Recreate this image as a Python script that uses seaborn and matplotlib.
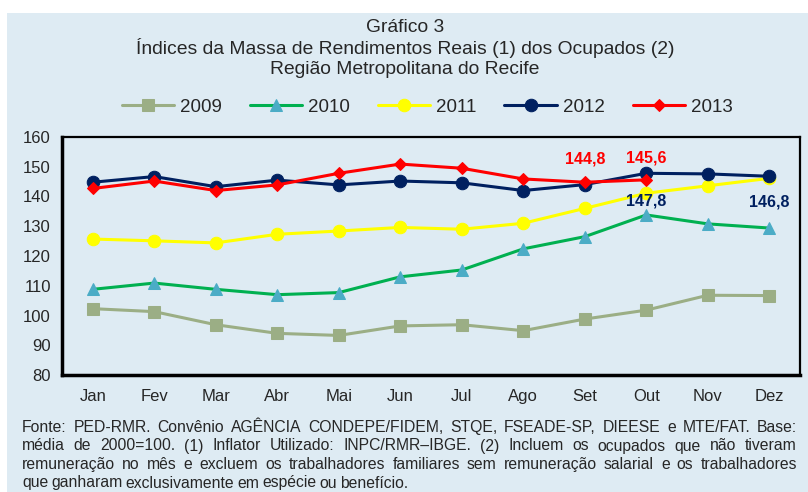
import numpy as np
import matplotlib
matplotlib.use('Agg')
import matplotlib.pyplot as plt
import seaborn as sns
from matplotlib.patches import Rectangle

meses = ['Jan', 'Fev', 'Mar', 'Abr', 'Mai', 'Jun', 'Jul', 'Ago', 'Set', 'Out', 'Nov', 'Dez']
anos = ['2009', '2010', '2011', '2012', '2013']
v2009 = [102.3, 101.3, 96.9, 94.0, 93.3, 96.5, 96.9, 94.9, 98.8, 101.8, 106.8, 106.7]
v2010 = [108.8, 110.9, 108.8, 107.0, 107.7, 113.0, 115.3, 122.4, 126.5, 133.8, 130.8, 129.4]
v2011 = [125.7, 125.1, 124.4, 127.3, 128.4, 129.6, 129.0, 131.0, 136.0, 141.1, 143.6, 146.1]
v2012 = [144.8, 146.7, 143.3, 145.5, 143.9, 145.2, 144.6, 142.0, 144.0, 147.8, 147.6, 146.8]
v2013 = [142.7, 145.2, 142.0, 143.9, 147.8, 150.9, 149.5, 145.9, 144.8, 145.6]

titulo = ['Gráfico 3',
          'Índices da Massa de Rendimentos Reais (1) dos Ocupados (2)',
          'Região Metropolitana do Recife']
nota = ['Fonte: PED-RMR. Convênio AGÊNCIA CONDEPE/FIDEM, STQE, FSEADE-SP, DIEESE e MTE/FAT. Base:',
        'média de 2000=100. (1) Inflator Utilizado: INPC/RMR–IBGE. (2) Incluem os ocupados que não tiveram',
        'remuneração no mês e excluem os trabalhadores familiares sem remuneração salarial e os trabalhadores',
        'que ganharam exclusivamente em espécie ou benefício.']

azul = '#DEEBF3'
sns.set_style('white')
plt.rcParams['font.family'] = ['Liberation Sans', 'DejaVu Sans']

fig = plt.figure(figsize=(8.08, 4.92), dpi=100)
fig.patch.set_facecolor('white')
fig.patches.append(Rectangle((7 / 808, 0), 1, 1 - 13 / 492, transform=fig.transFigure,
                             facecolor=azul, edgecolor='none', zorder=-10))

ax = fig.add_axes([62 / 808, 1 - 375 / 492, 738 / 808, 238 / 492])
ax.set_facecolor(azul)

estilos = {
    '2009': dict(color='#9BAE85', marker='s', mfc='#9BAE85', mec='#9BAE85', ms=8),
    '2010': dict(color='#00B050', marker='^', mfc='#4BACC6', mec='#4BACC6', ms=8.5),
    '2011': dict(color='#FFFF00', marker='o', mfc='#FFFF00', mec='#FFFF00', ms=9),
    '2012': dict(color='#002060', marker='o', mfc='#002060', mec='#002060', ms=9),
    '2013': dict(color='#FF0000', marker='D', mfc='#FF0000', mec='#FF0000', ms=6),
}
series = dict(zip(anos, [v2009, v2010, v2011, v2012, v2013]))

for ano, vals in series.items():
    st = estilos[ano]
    sns.lineplot(x=np.arange(len(vals)), y=vals, ax=ax, color=st['color'], lw=2.2,
                 marker=st['marker'], markerfacecolor=st['mfc'],
                 markeredgecolor=st['mec'], markersize=st['ms'], label=ano, sort=False)

# rótulos de valores
def fmt(v):
    return f'{v:.1f}'.replace('.', ',')

for x, vals, cor, off in [(8, v2013, '#FF0000', (0, 23)), (9, v2013, '#FF0000', (0, 22)),
                          (9, v2012, '#002060', (0, -28)), (11, v2012, '#002060', (0, -26))]:
    ax.annotate(fmt(vals[x]), xy=(x, vals[x]), xytext=off, textcoords='offset pixels',
                ha='center', va='center', fontsize=11.5, fontweight='bold', color=cor)

ax.set_xlim(-0.5, 11.5)
ax.set_ylim(80, 160)
ax.set_yticks(range(80, 161, 10))
ax.set_xticks(range(12))
ax.set_xticklabels(meses)
ax.set_xticks(np.arange(-0.5, 12, 1), minor=True)
ax.tick_params(axis='x', which='major', length=0, pad=10, labelsize=12)
ax.tick_params(axis='x', which='minor', length=5, width=1.5, direction='out', color='black')
ax.tick_params(axis='y', length=5, width=1.5, direction='out', color='black', labelsize=12, pad=3)
for s in ['left', 'bottom']:
    ax.spines[s].set_linewidth(2.5)
for s in ['top', 'right']:
    ax.spines[s].set_linewidth(1.6)
for s in ax.spines.values():
    s.set_color('black')
    s.set_visible(True)

h, l = ax.get_legend_handles_labels()
ax.legend_.remove()
fig.legend(h, l, loc='center', bbox_to_anchor=(427 / 808, 1 - 107 / 492), ncol=5,
           frameon=False, fontsize=13.5, handlelength=2.8, handletextpad=0.3,
           columnspacing=1.5)

for i, t in enumerate(titulo):
    fig.text(405 / 808, 1 - (27 + 21 * i) / 492, t, ha='center', va='center', fontsize=13.9)

# nota de rodapé justificada
renderer = fig.canvas.get_renderer()
x0, x1 = 22, 797
for i, linha in enumerate(nota):
    y = 1 - (432 + 18.5 * i) / 492
    palavras = linha.split(' ')
    textos = [fig.text(0, y, p, ha='left', va='baseline', fontsize=11.3) for p in palavras]
    larg = [t.get_window_extent(renderer).width for t in textos]
    if i < len(nota) - 1:
        gap = (x1 - x0 - sum(larg)) / (len(palavras) - 1)
    else:
        gap = 3.1
    x = x0
    for t, w in zip(textos, larg):
        t.set_x(x / 808)
        x += w + gap

fig.savefig('out.png', dpi=100, facecolor=fig.get_facecolor())
